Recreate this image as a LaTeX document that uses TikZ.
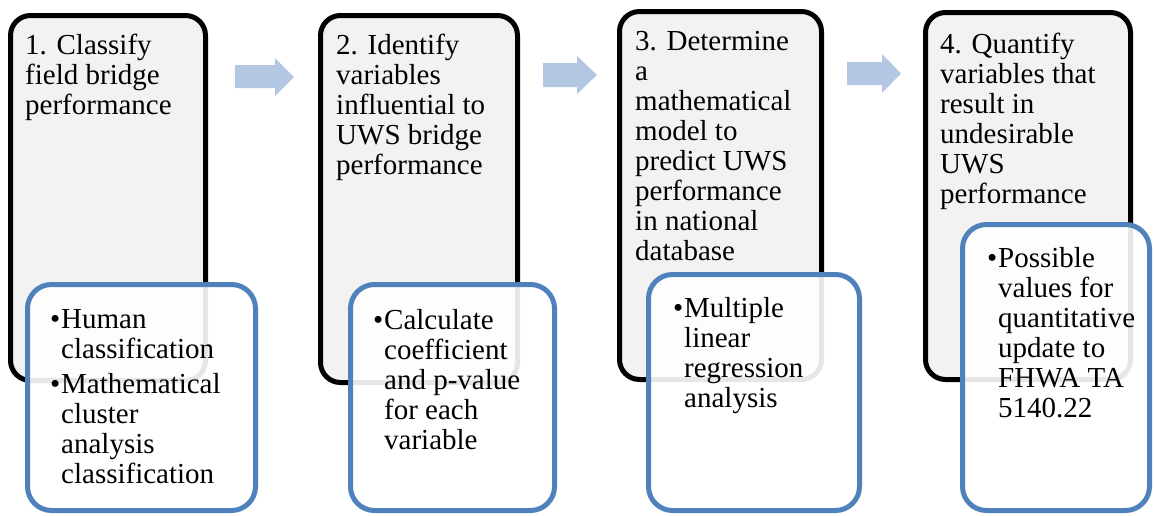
\documentclass[tikz,border=0pt]{standalone}
\usepackage{fontspec}
\setmainfont{Liberation Serif}
\definecolor{boxgrey}{HTML}{F2F2F2}
\definecolor{bluebd}{HTML}{4F81BD}
\definecolor{arrowc}{HTML}{B3C6E2}
\newcommand\mybul{\makebox[11pt][l]{•}}
\newcommand\myind{\hspace*{11pt}}
\tikzset{
  stepbox/.style={draw=black, line width=5pt, fill=boxgrey, rounded corners=20pt, rectangle, inner sep=0pt},
  subbox/.style={draw=bluebd, line width=5pt, fill=white, fill opacity=0.9, draw opacity=1, rounded corners=24pt, rectangle, inner sep=0pt},
  txt/.style={anchor=north west, inner sep=0pt, align=left, font=\fontsize{29}{30}\selectfont, execute at begin node=\strut, text=black},
  blockarrow/.style={fill=arrowc, draw=none}
}
\begin{document}
\begin{tikzpicture}[x=1pt,y=-1pt]
\useasboundingbox (0,0) rectangle (1154,515);
% step boxes
\node[stepbox, minimum width=195pt, minimum height=365pt] (s1) at (108,198) {};
\node[stepbox, minimum width=197pt, minimum height=367pt] (s2) at (419,199) {};
\node[stepbox, minimum width=202pt, minimum height=368pt] (s3) at (720.5,195.5) {};
\node[stepbox, minimum width=205pt, minimum height=367pt] (s4) at (1028,196) {};
% titles
\node[txt] (t1) at (25,34) {1. Classify\\field bridge\\performance};
\node[txt] (t2) at (336,34) {2. Identify\\variables\\influential to\\UWS bridge\\performance};
\node[txt] (t3) at (635,31) {3. Determine\\a\\mathematical\\model to\\predict UWS\\performance\\in national\\database};
\node[txt] (t4) at (940,33) {4. Quantify\\variables that\\result in\\undesirable\\UWS\\performance};
% sub boxes
\node[subbox, minimum width=228pt, minimum height=226pt] (b1) at (141.5,397.5) {};
\node[subbox, minimum width=204pt, minimum height=226pt] (b2) at (452.5,397.5) {};
\node[subbox, minimum width=211pt, minimum height=236pt] (b3) at (754,392.5) {};
\node[subbox, minimum width=187pt, minimum height=286pt] (b4) at (1056,367.5) {};
% bullet texts
\node[txt] (u1) at (50,309) {\mybul Human\\\myind classification\\[5pt]\mybul Mathematical\\\myind cluster\\\myind analysis\\\myind classification};
\node[txt] (u2) at (373,309) {\mybul Calculate\\\myind coefficient\\\myind and p-value\\\myind for each\\\myind variable};
\node[txt] (u3) at (673,297) {\mybul Multiple\\\myind linear\\\myind regression\\\myind analysis};
\node[txt] (u4) at (987,247) {\mybul Possible\\\myind values for\\\myind quantitative\\\myind update to\\\myind FHWA TA\\\myind 5140.22};
% block arrows
\fill[blockarrow] (235,65) -- (275,65) -- (275,58) -- (294,77) -- (275,96) -- (275,88) -- (235,88) -- cycle;
\fill[blockarrow] (543,63) -- (577,63) -- (577,56) -- (597,75) -- (577,94) -- (577,87) -- (543,87) -- cycle;
\fill[blockarrow] (847,62) -- (882,62) -- (882,54) -- (901,73.5) -- (882,93) -- (882,85) -- (847,85) -- cycle;
\end{tikzpicture}
\end{document}
